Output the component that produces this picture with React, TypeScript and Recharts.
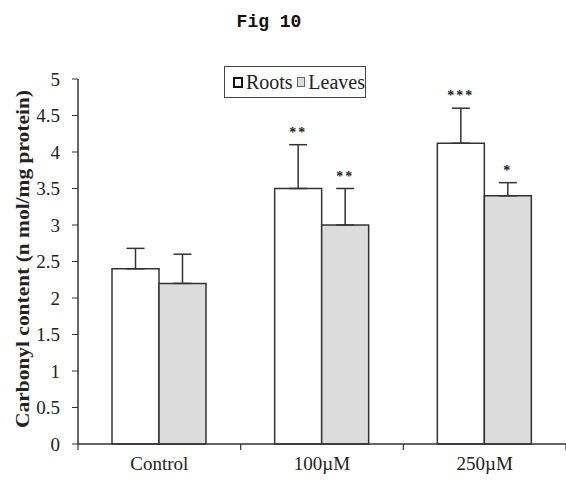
import { BarChart, Bar, XAxis, YAxis, ErrorBar, LabelList, Legend, Label } from "recharts";

const categories = ["Control", "100\u00b5M", "250\u00b5M"];
const roots = [2.4, 3.5, 4.12];
const rootsSd = [0.28, 0.6, 0.48];
const rootsStars = ["", "**", "***"];
const leaves = [2.2, 3.0, 3.4];
const leavesSd = [0.4, 0.5, 0.18];
const leavesStars = ["", "**", "*"];
const yTicks = [0, 0.5, 1, 1.5, 2, 2.5, 3, 3.5, 4, 4.5, 5];

const data = categories.map((name, i) => ({
  name,
  roots: roots[i],
  rootsErr: [0, rootsSd[i]],
  leaves: leaves[i],
  leavesErr: [0, leavesSd[i]],
}));

const serif = "'Liberation Serif', 'Times New Roman', serif";
const ink = "#333";

const makeStars = (values: number[], sds: number[], stars: string[]) => (props: any) => {
  const { x, y, width, height, index } = props;
  const s = stars[index];
  if (!s) return null;
  const perUnit = height / values[index];
  const top = y - sds[index] * perUnit;
  return (
    <text x={x + width / 2} y={top - 8} textAnchor="middle" fontFamily={serif} fontWeight="bold" fontSize={14} fill="#222" letterSpacing={2}>
      {s}
    </text>
  );
};

// category label plus tick marks on the band edges (Excel style)
const XTick = (props: any) => {
  const { x, y, payload, index, width, visibleTicksCount } = props;
  const n = visibleTicksCount || categories.length;
  const half = width ? width / n / 2 : payload.offset || 0;
  const last = index === n - 1;
  return (
    <g>
      <line x1={x - half} x2={x - half} y1={y} y2={y + 6} stroke={ink} strokeWidth={1.2} />
      {last && <line x1={x + half} x2={x + half} y1={y} y2={y + 6} stroke={ink} strokeWidth={1.2} />}
      <text x={x} y={y + 13} dy="0.71em" textAnchor="middle" fontFamily={serif} fontSize={19} fill="#222">
        {payload.value}
      </text>
    </g>
  );
};

const LegendBox = () => (
  <div
    style={{
      border: "1.5px solid #444",
      width: 142,
      height: 32,
      boxSizing: "border-box",
      display: "flex",
      alignItems: "center",
      fontFamily: serif,
      fontSize: 20,
      color: "#222",
      paddingLeft: 8,
    }}
  >
    <span style={{ width: 7, height: 7, border: "2px solid #111", background: "#fff", marginRight: 3 }} />
    <span style={{ marginRight: 4 }}>Roots</span>
    <span style={{ width: 8, height: 8, border: "1px solid #666", background: "#dcdcdc", marginRight: 3 }} />
    <span>Leaves</span>
  </div>
);

export default function App() {
  return (
    <div style={{ position: "absolute", left: 0, top: 0, width: 566, height: 481, background: "#fff", overflow: "hidden" }}>
      <div
        style={{
          position: "absolute",
          left: 0,
          width: 538,
          top: 12,
          textAlign: "center",
          fontFamily: "'Liberation Mono', monospace",
          fontWeight: "bold",
          fontSize: 18,
          color: "#111",
        }}
      >
        Fig 10
      </div>
      <BarChart width={566} height={481} data={data} margin={{ top: 79, right: 0, bottom: 0, left: 0 }} barGap={0}>
        <XAxis
          dataKey="name"
          height={37}
          axisLine={{ stroke: ink, strokeWidth: 1.5 }}
          tickLine={false}
          tickSize={0}
          tickMargin={0}
          tick={<XTick />}
          interval={0}
        />
        <YAxis
          domain={[0, 5]}
          ticks={yTicks}
          width={78}
          axisLine={{ stroke: ink, strokeWidth: 1.5 }}
          tickLine={{ stroke: ink }}
          tickSize={6}
          tickMargin={12}
          tick={{ fontFamily: serif, fontSize: 19, fill: "#222" }}
          interval={0}
        >
          <Label
            content={() => (
              <text
                transform="translate(25,259) rotate(-90)"
                textAnchor="middle"
                dominantBaseline="middle"
                fontFamily={serif}
                fontWeight="bold"
                fontSize={19}
                fill="#222"
                textLength={338}
                lengthAdjust="spacingAndGlyphs"
              >
                Carbonyl content (n mol/mg protein)
              </text>
            )}
          />
        </YAxis>
        <Legend
          verticalAlign="middle"
          align="center"
          layout="horizontal"
          content={<LegendBox />}
          wrapperStyle={{ position: "absolute", top: 66, left: 224, width: 142 }}
        />
        <Bar dataKey="roots" name="Roots" fill="#fff" stroke={ink} strokeWidth={1.5} barSize={47} isAnimationActive={false}>
          <ErrorBar dataKey="rootsErr" width={9} stroke={ink} strokeWidth={1.5} direction="y" />
          <LabelList dataKey="roots" content={makeStars(roots, rootsSd, rootsStars)} />
        </Bar>
        <Bar dataKey="leaves" name="Leaves" fill="#dcdcdc" stroke={ink} strokeWidth={1.5} barSize={47} isAnimationActive={false}>
          <ErrorBar dataKey="leavesErr" width={9} stroke={ink} strokeWidth={1.5} direction="y" />
          <LabelList dataKey="leaves" content={makeStars(leaves, leavesSd, leavesStars)} />
        </Bar>
      </BarChart>
    </div>
  );
}
